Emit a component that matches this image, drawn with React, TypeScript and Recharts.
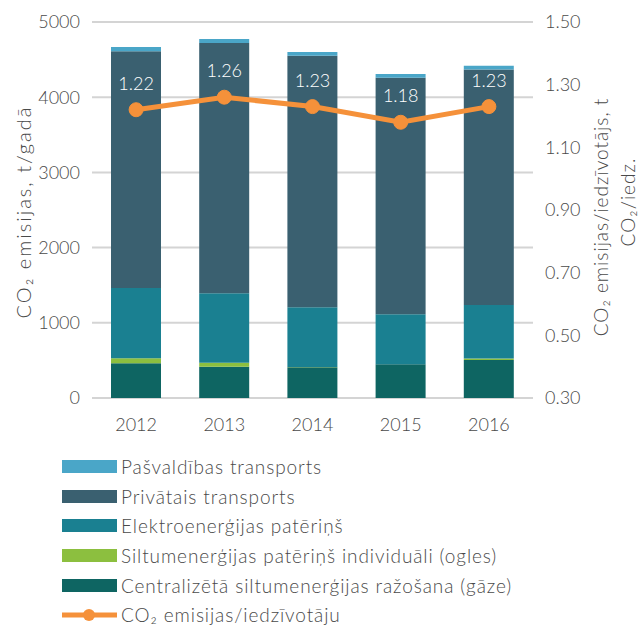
import React from "react";
import {
  ComposedChart,
  Bar,
  Line,
  XAxis,
  YAxis,
  CartesianGrid,
  LabelList,
} from "recharts";

const years = ["2012", "2013", "2014", "2015", "2016"];
const centralizeta = [461, 416, 408, 448, 505];
const siltumIndividuali = [66, 53, 4, 2, 20];
const elektro = [936, 923, 794, 663, 712];
const privatais = [3147, 3328, 3344, 3147, 3133];
const pasvaldibas = [58, 54, 51, 49, 49];
const perCapita = [1.22, 1.26, 1.23, 1.18, 1.23];

const leftTicks = [0, 1000, 2000, 3000, 4000, 5000];
const rightTicks = [0.3, 0.5, 0.7, 0.9, 1.1, 1.3, 1.5];

const COLORS = {
  pasv: "#4aa6c8",
  priv: "#3a6070",
  elek: "#1a8091",
  silt: "#8cbf3f",
  centr: "#0e6562",
  line: "#f5913a",
};

const legendItems = [
  { name: "Pašvaldības transports", color: COLORS.pasv, type: "bar" },
  { name: "Privātais transports", color: COLORS.priv, type: "bar" },
  { name: "Elektroenerģijas patēriņš", color: COLORS.elek, type: "bar" },
  { name: "Siltumenerģijas patēriņš individuāli (ogles)", color: COLORS.silt, type: "bar" },
  { name: "Centralizētā siltumenerģijas ražošana (gāze)", color: COLORS.centr, type: "bar" },
  { name: "CO₂ emisijas/iedzīvotāju", color: COLORS.line, type: "line" },
];

const data = years.map((y, i) => ({
  year: y,
  centr: centralizeta[i],
  silt: siltumIndividuali[i],
  elek: elektro[i],
  priv: privatais[i],
  pasv: pasvaldibas[i],
  pc: perCapita[i],
}));

const FONT = "Lato, 'Open Sans', sans-serif";
const TXT = "#4a4a4a";
const FW = 300;

const LeftLabel = (props: any) => {
  const vb = props.viewBox || {};
  const cy = vb.y + vb.height / 2 + 2;
  const x = 23;
  return (
    <text
      x={x}
      y={cy}
      transform={`rotate(-90 ${x} ${cy})`}
      textAnchor="middle"
      dominantBaseline="central"
      fill={TXT}
      fontSize={20}
      fontWeight={FW}
      letterSpacing={2}
      fontFamily={FONT}
    >
      CO₂ emisijas, t/gadā
    </text>
  );
};

const RightLabel = (props: any) => {
  const vb = props.viewBox || {};
  const cy = vb.y + vb.height / 2;
  const x1 = 600;
  const x2 = 627;
  return (
    <g>
      <text
        x={x1}
        y={cy + 7}
        transform={`rotate(-90 ${x1} ${cy + 7})`}
        textAnchor="middle"
        dominantBaseline="central"
        fill={TXT}
        fontSize={19}
        fontWeight={FW}
        letterSpacing={1}
        fontFamily={FONT}
      >
        CO₂ emisijas/iedzīvotājs, t
      </text>
      <text
        x={x2}
        y={cy - 8}
        transform={`rotate(-90 ${x2} ${cy - 8})`}
        textAnchor="middle"
        dominantBaseline="central"
        fill={TXT}
        fontSize={19}
        fontWeight={FW}
        letterSpacing={1}
        fontFamily={FONT}
      >
        CO₂/iedz.
      </text>
    </g>
  );
};

const PointLabel = (props: any) => {
  const { x, y, value } = props;
  return (
    <text
      x={x}
      y={y - 20}
      textAnchor="middle"
      fill="#ffffff"
      fontSize={18}
      fontWeight={FW}
      fontFamily={FONT}
    >
      {Number(value).toFixed(2)}
    </text>
  );
};

const tickStyle = { fill: TXT, fontSize: 18, fontFamily: FONT, fontWeight: FW };

export default function App() {
  return (
    <div style={{ position: "absolute", left: 0, top: 0, width: 638, height: 633, background: "#fff" }}>
      <ComposedChart
        width={638}
        height={445}
        data={data}
        margin={{ top: 22, right: 0, left: 0, bottom: 0 }}
        barSize={50}
      >
        <CartesianGrid vertical={false} stroke="#d4d4d4" strokeWidth={2} yAxisId="left" />
        <XAxis
          dataKey="year"
          height={47}
          axisLine={false}
          tickLine={false}
          tick={tickStyle}
          tickMargin={14}
        />
        <YAxis
          yAxisId="left"
          width={92}
          domain={[0, 5000]}
          ticks={leftTicks}
          axisLine={false}
          tickLine={false}
          tick={tickStyle}
          tickMargin={6}
          label={<LeftLabel />}
        />
        <YAxis
          yAxisId="right"
          orientation="right"
          width={105}
          domain={[0.3, 1.5]}
          ticks={rightTicks}
          tickFormatter={(v: number) => v.toFixed(2)}
          axisLine={false}
          tickLine={false}
          tick={tickStyle}
          tickMargin={6}
          label={<RightLabel />}
        />
        <Bar yAxisId="left" dataKey="centr" stackId="a" fill={COLORS.centr} isAnimationActive={false} />
        <Bar yAxisId="left" dataKey="silt" stackId="a" fill={COLORS.silt} isAnimationActive={false} />
        <Bar yAxisId="left" dataKey="elek" stackId="a" fill={COLORS.elek} isAnimationActive={false} />
        <Bar yAxisId="left" dataKey="priv" stackId="a" fill={COLORS.priv} isAnimationActive={false} />
        <Bar yAxisId="left" dataKey="pasv" stackId="a" fill={COLORS.pasv} isAnimationActive={false} />
        <Line
          yAxisId="right"
          dataKey="pc"
          stroke={COLORS.line}
          strokeWidth={5}
          dot={{ r: 7, fill: COLORS.line, stroke: COLORS.line, strokeWidth: 1 }}
          activeDot={false}
          isAnimationActive={false}
        >
          <LabelList dataKey="pc" content={<PointLabel />} />
        </Line>
      </ComposedChart>
      <div style={{ position: "absolute", left: 62, top: 452, fontFamily: FONT, fontWeight: FW, color: TXT, fontSize: 19, letterSpacing: 0.9 }}>
        {legendItems.map((it) => (
          <div key={it.name} style={{ display: "flex", alignItems: "center", height: 29.6 }}>
            {it.type === "bar" ? (
              <div style={{ width: 55, height: 13, background: it.color, marginRight: 4 }} />
            ) : (
              <svg width={55} height={14} style={{ marginRight: 4 }}>
                <line x1={0} y1={7} x2={55} y2={7} stroke={it.color} strokeWidth={5} />
                <circle cx={27} cy={7} r={6} fill={it.color} />
              </svg>
            )}
            <span style={{ whiteSpace: "nowrap" }}>{it.name}</span>
          </div>
        ))}
      </div>
    </div>
  );
}
